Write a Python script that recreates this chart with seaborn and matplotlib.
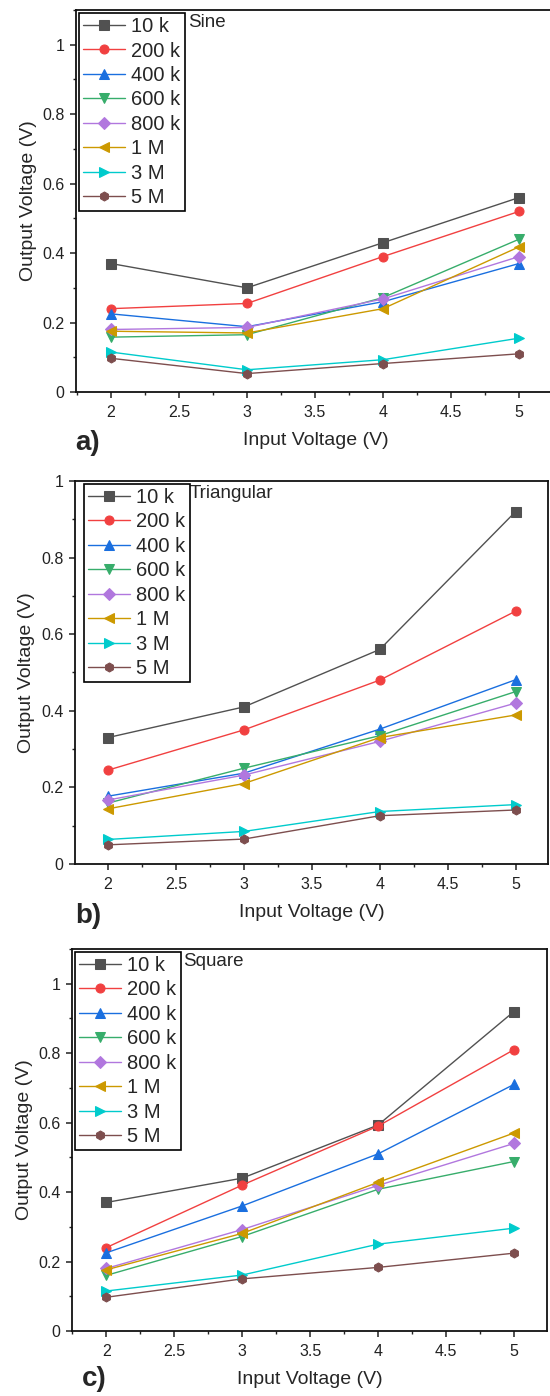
import pandas as pd
import matplotlib
matplotlib.use("Agg")
import matplotlib.pyplot as plt
from matplotlib.ticker import MultipleLocator, FuncFormatter
import seaborn as sns

# data
input_v = [2, 3, 4, 5]
freqs = ["10 k", "200 k", "400 k", "600 k", "800 k", "1 M", "3 M", "5 M"]

sine_out = [
    [0.37, 0.30, 0.43, 0.56],
    [0.24, 0.255, 0.39, 0.52],
    [0.225, 0.188, 0.26, 0.37],
    [0.158, 0.165, 0.272, 0.44],
    [0.18, 0.186, 0.268, 0.39],
    [0.175, 0.17, 0.24, 0.418],
    [0.115, 0.064, 0.093, 0.155],
    [0.097, 0.053, 0.082, 0.11],
]
triangular_out = [
    [0.33, 0.41, 0.56, 0.92],
    [0.245, 0.35, 0.48, 0.66],
    [0.177, 0.237, 0.352, 0.481],
    [0.159, 0.25, 0.335, 0.45],
    [0.167, 0.232, 0.32, 0.42],
    [0.144, 0.21, 0.33, 0.389],
    [0.064, 0.085, 0.137, 0.155],
    [0.05, 0.065, 0.126, 0.141],
]
square_out = [
    [0.37, 0.44, 0.593, 0.92],
    [0.24, 0.42, 0.59, 0.81],
    [0.225, 0.36, 0.51, 0.71],
    [0.16, 0.272, 0.408, 0.488],
    [0.18, 0.292, 0.419, 0.54],
    [0.176, 0.281, 0.428, 0.57],
    [0.115, 0.161, 0.25, 0.296],
    [0.097, 0.15, 0.183, 0.224],
]

colors = ["#515151", "#F14040", "#1A6FDF", "#37AD6B",
          "#B177DE", "#CC9900", "#00CBCC", "#7D4E4E"]
markers = ["s", "o", "^", "v", "D", "<", ">", "h"]

sns.set_style("white")
plt.rcParams["font.family"] = ["Liberation Sans", "DejaVu Sans"]


def to_frame(vals):
    rows = []
    for f, ys in zip(freqs, vals):
        for x, y in zip(input_v, ys):
            rows.append({"Input": x, "Output": y, "Freq": f})
    return pd.DataFrame(rows)


def draw_panel(ax, vals, wave, ytop, xlim, text_x, leg_anchor):
    df = to_frame(vals)
    sns.lineplot(data=df, x="Input", y="Output", hue="Freq", style="Freq",
                 hue_order=freqs, style_order=freqs, palette=colors,
                 markers=markers, dashes=False, markersize=6.5,
                 linewidth=1.0, errorbar=None, ax=ax)
    for ln in ax.lines:
        ln.set_markeredgecolor(ln.get_color())

    old = ax.get_legend()
    handles = old.legend_handles
    labels = [t.get_text() for t in old.get_texts()]
    old.remove()
    for h in handles:
        h.set_markeredgecolor(h.get_color())
        h.set_markersize(6.5)
        h.set_linewidth(1.0)
    leg = ax.legend(handles, labels, loc="upper left", bbox_to_anchor=leg_anchor,
                    fontsize=14.5, labelspacing=0.27, borderpad=0.2,
                    handlelength=2.1, handletextpad=0.3, borderaxespad=0.15,
                    numpoints=1, fancybox=False, framealpha=1, edgecolor="black")
    leg.get_frame().set_linewidth(1.2)

    ax.text(text_x, 0.99, wave, transform=ax.transAxes, ha="left", va="top",
            fontsize=13.5)

    ax.set_xlim(*xlim)
    ax.set_ylim(0, ytop)
    ax.xaxis.set_major_locator(MultipleLocator(0.5))
    ax.xaxis.set_minor_locator(MultipleLocator(0.25))
    ax.yaxis.set_major_locator(MultipleLocator(0.2))
    ax.yaxis.set_minor_locator(MultipleLocator(0.1))
    fmt = FuncFormatter(lambda v, p: "%g" % round(v, 2))
    ax.xaxis.set_major_formatter(fmt)
    ax.yaxis.set_major_formatter(fmt)
    ax.tick_params(axis="both", which="both", direction="out",
                   bottom=True, left=True, top=False, right=False,
                   labelsize=11.5, labelcolor="#222222", color="#222222")
    ax.tick_params(axis="both", which="major", length=4.2, width=1.1)
    ax.tick_params(axis="both", which="minor", length=2.2, width=1.0)
    ax.tick_params(axis="x", which="major", pad=5.5)
    ax.tick_params(axis="y", which="major", pad=4)
    for sp in ax.spines.values():
        sp.set_visible(True)
        sp.set_color("#111111")
        sp.set_linewidth(1.3)
    ax.set_xlabel("Input Voltage (V)", fontsize=14, labelpad=8)
    ax.set_ylabel("Output Voltage (V)", fontsize=14, labelpad=4)


fig = plt.figure(figsize=(5.5, 13.96), dpi=100)
ax_a = fig.add_axes([0.1382, 0.7192, 0.8727, 0.2736])
ax_b = fig.add_axes([0.1358, 0.3811, 0.8605, 0.2744])
ax_c = fig.add_axes([0.1309, 0.0466, 0.8636, 0.2736])

draw_panel(ax_a, sine_out, "Sine", 1.10, (1.743, 5.272), 0.233, (0.0, 1.0))
draw_panel(ax_b, triangular_out, "Triangular", 1.0, (1.755, 5.238), 0.2425, (0.013, 1.0))
draw_panel(ax_c, square_out, "Square", 1.10, (1.748, 5.243), 0.2337, (0.0, 1.0))

fig.text(75 / 550, 1 - 450 / 1396, "a)", fontsize=20, fontweight="bold", va="baseline")
fig.text(75 / 550, 1 - 923 / 1396, "b)", fontsize=20, fontweight="bold", va="baseline")
fig.text(82 / 550, 1 - 1386 / 1396, "c)", fontsize=20, fontweight="bold", va="baseline")

fig.savefig("out.png", dpi=100)
